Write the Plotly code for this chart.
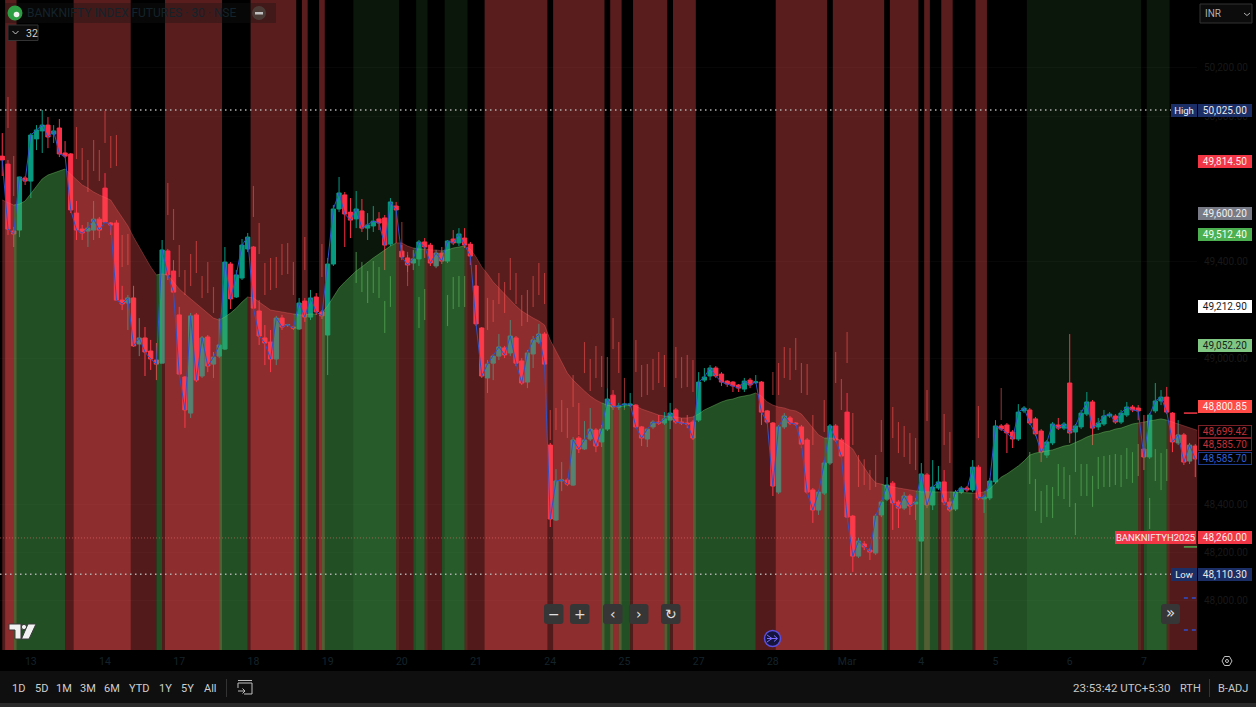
import plotly.graph_objects as go

# ---------- candles (30 min bars), prices in INR ----------
opens = [49835,49802,49526,49530,49745,49732,49906,49939,49963,49926,
49951,49848,49844,49600,49534,49526,49530,49575,49703,49559,
49559,49241,49229,49250,49060,49085,49031,48994,48981,49444,
49361,49180,48924,48775,49180,48928,49089,48977,49010,49039,
49390,49254,49332,49452,49460,49196,49085,49068,48998,49167,
49138,49130,49122,49237,49171,49254,49192,49097,49390,49617,
49675,49604,49576,49609,49538,49547,49576,49580,49472,49629,
49443,49415,49394,49411,49481,49468,49382,49435,49402,49493,
49477,49497,49472,49299,49126,48920,48981,49010,49044,49023,
49085,48990,48903,49019,49068,49101,48643,48334,48495,48499,
48478,48672,48627,48668,48705,48656,48709,48849,48800,48808,
48808,48808,48718,48668,48718,48738,48734,48746,48788,48738,
48734,48738,48746,48911,48928,48961,48936,48907,48903,48891,
48874,48911,48900,48903,48784,48734,48449,48718,48755,48734,
48718,48664,48458,48375,48445,48569,48722,48664,48779,48350,
48185,48235,48210,48198,48355,48420,48486,48408,48383,48433,
48400,48247,48520,48396,48466,48491,48408,48379,48449,48466,
48458,48552,48421,48425,48491,48722,48726,48697,48668,48784,
48788,48751,48701,48602,48652,48726,48713,48899,48697,48718,
48771,48821,48718,48730,48763,48763,48738,48767,48800,48796,
48627,48594,48784,48825,48841,48775,48652,48685,48577,48639]
highs = [49930,49819,49543,49749,49753,49930,49963,50025,49996,49963,
49988,49897,49848,49650,49551,49563,49650,49584,49765,49563,
49571,49300,49262,49300,49167,49130,49077,49064,49489,49452,
49406,49213,48928,49188,49188,49093,49097,49027,49167,49460,
49398,49365,49493,49518,49464,49241,49138,49118,49176,49180,
49143,49135,49250,49250,49283,49270,49200,49415,49633,49749,
49687,49662,49691,49658,49600,49629,49604,49592,49662,49646,
49468,49427,49448,49489,49497,49477,49448,49460,49489,49530,
49538,49538,49481,49386,49130,48994,49019,49101,49052,49159,
49093,49002,49035,49093,49143,49109,48652,48544,48573,48507,
48676,48680,48742,48796,48713,48726,48878,48870,48817,48817,
48858,48812,48722,48713,48746,48767,48779,48817,48796,48755,
48767,48746,48944,48961,48973,48969,48944,48911,48907,48895,
48920,48920,48932,48907,48788,48738,48726,48775,48763,48738,
48726,48672,48466,48458,48581,48730,48730,48672,48858,48355,
48260,48247,48218,48359,48416,48511,48495,48416,48449,48441,
48425,48569,48528,48581,48557,48540,48425,48458,48474,48474,
48581,48561,48437,48507,48746,48730,48734,48705,48812,48804,
48796,48759,48709,48664,48738,48755,48738,49101,48730,48788,
48862,48829,48755,48788,48779,48771,48788,48821,48808,48808,
48767,48775,48899,48870,48883,48779,48746,48693,48652,48647]
lows = [49753,49510,49460,49501,49716,49662,49860,49848,49868,49889,
49831,49827,49600,49489,49489,49460,49489,49497,49559,49510,
49241,49200,49118,49048,49010,48928,48953,48911,48981,49324,
49270,48932,48714,48755,48903,48920,48944,48920,49002,49035,
49204,49250,49324,49439,49204,49056,48973,48944,48973,49118,
49130,49118,49118,49151,49159,49180,49163,48932,49382,49604,
49460,49497,49538,49522,49489,49522,49530,49365,49464,49477,
49406,49357,49365,49382,49415,49382,49373,49390,49394,49468,
49464,49456,49386,49134,48920,48858,48911,48994,49002,49010,
48969,48891,48878,48961,49060,48969,48305,48330,48453,48474,
48474,48610,48623,48660,48614,48635,48701,48788,48788,48796,
48800,48713,48639,48635,48709,48726,48726,48709,48730,48726,
48713,48664,48738,48903,48911,48920,48887,48883,48862,48862,
48862,48878,48895,48726,48730,48433,48441,48709,48726,48722,
48631,48441,48322,48355,48437,48561,48656,48590,48342,48120,
48177,48210,48169,48190,48346,48412,48293,48301,48375,48355,
48334,48110,48383,48375,48458,48396,48367,48371,48441,48449,
48449,48416,48363,48416,48483,48701,48610,48631,48660,48775,
48726,48680,48573,48590,48643,48705,48705,48652,48532,48709,
48763,48643,48705,48722,48755,48730,48730,48759,48779,48746,
48540,48586,48775,48808,48771,48614,48643,48561,48565,48511]
closes = [49819,49534,49514,49749,49732,49922,49943,49963,49914,49939,
49844,49835,49613,49530,49518,49538,49575,49530,49563,49551,
49241,49225,49250,49052,49085,49027,48998,48977,49448,49345,
49274,48936,48788,49176,48911,49085,48969,49006,49056,49398,
49246,49345,49468,49501,49208,49093,49064,48998,49167,49130,
49140,49126,49229,49171,49250,49192,49176,49390,49617,49683,
49596,49571,49617,49538,49551,49567,49559,49468,49646,49613,
49419,49386,49411,49481,49460,49394,49435,49402,49485,49477,
49514,49468,49423,49143,48928,48977,49010,49048,49015,49093,
48981,48899,49023,49077,49101,48977,48338,48495,48499,48482,
48664,48627,48664,48709,48639,48709,48833,48800,48804,48812,
48812,48718,48672,48709,48738,48734,48751,48775,48738,48734,
48730,48672,48903,48924,48961,48928,48903,48895,48887,48878,
48907,48891,48904,48779,48738,48474,48718,48763,48734,48730,
48647,48449,48375,48449,48569,48722,48664,48598,48346,48185,
48247,48223,48202,48350,48408,48478,48404,48383,48433,48392,
48408,48524,48396,48470,48491,48408,48375,48449,48466,48458,
48552,48425,48429,48495,48722,48709,48693,48668,48779,48796,
48734,48689,48614,48656,48730,48713,48730,48693,48722,48775,
48821,48713,48734,48763,48771,48738,48775,48800,48788,48784,
48594,48767,48825,48841,48779,48656,48685,48573,48643,48586]

# ---------- smoothed trend area ----------
trend = [49654,49642,49633,49637,49650,49679,49712,49741,49757,49765,
49774,49782,49761,49736,49716,49703,49687,49675,49666,49654,
49617,49580,49547,49501,49460,49415,49378,49345,49349,49345,
49316,49287,49266,49246,49225,49204,49188,49167,49159,49171,
49188,49208,49233,49254,49250,49233,49217,49200,49196,49192,
49188,49184,49180,49180,49184,49184,49188,49217,49254,49291,
49316,49340,49361,49378,49398,49415,49431,49448,49464,49477,
49477,49464,49456,49452,49452,49448,49448,49444,49448,49456,
49460,49464,49452,49419,49378,49349,49316,49291,49266,49241,
49217,49196,49180,49167,49155,49138,49076,49031,48982,48940,
48911,48887,48866,48845,48829,48817,48808,48804,48800,48804,
48808,48804,48792,48784,48775,48767,48763,48759,48759,48755,
48755,48759,48771,48788,48800,48812,48821,48829,48833,48841,
48845,48850,48858,48845,48821,48808,48800,48796,48788,48784,
48771,48742,48713,48685,48672,48672,48672,48660,48643,48627,
48586,48548,48515,48487,48482,48474,48470,48466,48462,48458,
48454,48450,48450,48450,48450,48450,48450,48449,48445,48445,
48445,48445,48450,48462,48487,48511,48524,48540,48557,48577,
48602,48610,48614,48618,48623,48631,48639,48643,48652,48664,
48676,48685,48689,48697,48701,48709,48713,48722,48730,48734,
48738,48742,48746,48751,48746,48738,48730,48722,48713,48705,48699]
trend_up_from = [2,27,38,51,53,56,72,77,105,108,116,121,144,154,160,166,172,200]
trend_up_to   = [11,28,43,52,55,69,74,81,107,110,117,132,145,155,164,170,199,204]

# ---------- background signal bands (bar index, end exclusive) ----------
red_band_from = [1,13,29,44,53,56,85,97,107,111,118,136,146,156,162,165,171]
red_band_to   = [3,23,39,52,54,57,96,106,109,117,122,145,155,161,163,167,173]
green_band_from = [62,73,78,180,201]
green_band_to   = [70,75,82,200,205]

# ---------- translucent offset range bars ----------
red_bar_idx = [1,2,13,14,15,16,17,18,19,20,21,22,29,30,31,32,33,34,35,36,37,44,45,46,47,48,49,50,51,53,56,70,71,83,
85,86,87,88,89,90,91,92,93,94,95,96,97,98,99,100,101,102,103,104,105,106,107,108,109,111,112,113,114,115,116,118,119,120,121,
135,136,137,138,139,140,141,142,144,146,147,148,149,150,151,152,153,154,156,157,158,159,160,162,165,166,171,175]
red_bar_hi = [50079,49835,49955,49868,49819,49901,49860,50021,49918,49922,49510,49514,49724,49617,49468,49365,49431,49485,49340,49398,49295,49712,49559,49394,49415,49419,49472,49477,49398,49501,49472,49563,49440,49386,
49250,49241,49353,49316,49415,49353,49262,49283,49340,49394,49353,48788,48796,48829,48796,48932,48817,49068,48998,49052,49010,49006,49167,49068,48920,49076,48973,48977,48998,49027,49015,49048,49006,49015,48994,
48944,48982,49048,49044,49085,48982,48977,48767,48829,49027,48916,49109,48775,48602,48585,48540,48602,48746,48800,48738,48722,48693,48672,48870,48771,48697,48804,48878]
red_bar_lo = [49951,49670,49823,49736,49687,49774,49732,49889,49786,49794,49378,49386,49592,49489,49336,49262,49299,49353,49250,49270,49188,49584,49431,49262,49283,49291,49345,49349,49262,49365,49336,49435,49299,49254,
49118,49151,49225,49188,49283,49225,49134,49151,49213,49262,49225,48664,48705,48697,48672,48800,48685,48940,48866,48920,48883,48878,49039,48940,48788,48944,48841,48850,48870,48899,48883,48920,48878,48883,48862,
48850,48850,48920,48911,48953,48858,48850,48643,48697,48899,48788,48982,48643,48470,48478,48458,48470,48614,48672,48610,48594,48565,48540,48742,48643,48569,48672,48746]
green_bar_idx = [62,63,64,65,66,67,68,73,74,78,79,80,81,180,181,182,183,184,185,186,187,188,189,190,191,192,193,194,195,196,197,198,199,201,202,203,204]
green_bar_hi = [49440,49398,49361,49402,49378,49237,49340,49254,49287,49262,49336,49340,49340,48614,48503,48454,48478,48470,48565,48553,48520,48404,48565,48565,48516,48594,48598,48602,48606,48602,48631,48614,48647,48425,48627,48610,48627]
green_bar_lo = [49312,49275,49229,49270,49250,49105,49213,49126,49159,49134,49204,49213,49213,48482,48371,48322,48346,48342,48433,48421,48388,48272,48433,48433,48388,48462,48470,48470,48478,48470,48503,48487,48516,48297,48495,48458,48495]

# ---------- axis labels ----------
price_ticks = [50200,50000,49400,49000,48400,48200,48000]
date_idx = [5,18,31,44,57,70,83,96,109,122,135,148,161,174,187,200]
date_labels = ["13","14","17","18","19","20","21","24","25","27","28","Mar","4","5","6","7"]
price_range = [47797.75, 50479]
bar_range = [-0.4, 209.3]

# ---------- price scale tags ----------
tag_prices = [50025.00,49814.50,49600.20,49512.40,49212.90,49052.20,48800.85,48699.42,48585.70,48585.70,48260.00,48110.30]
tag_shift  = [0,0,0,0,0,0,0,0,14,0,0,0]
tag_fill   = ["#1b2f66","#f23645","#787b86","#4caf50","#ffffff","#81c784","#ff4a45","#000000","#000000","#000000","#f23645","#1b2f66"]
tag_edge   = ["#1b2f66","#f23645","#787b86","#4caf50","#ffffff","#81c784","#ff4a45","#7a2026","#7a2026","#1e3a8a","#f23645","#1b2f66"]
tag_text   = ["#e8e8e8","#ffe8e8","#f0f0f0","#f0fff0","#1a1a1a","#14261a","#fff0f0","#c2303a","#c2303a","#2f5fd0","#ffe8e8","#e8e8e8"]
high_value, low_value, last_value = 50025.0, 48110.3, 48260.0
short_marks = [48775, 48223, 48012, 47880]
short_mark_colors = ["#f23645", "#4caf50", "#2f4fd0", "#2f4fd0"]
short_mark_dash = ["solid", "solid", "4px,4px", "4px,4px"]

W, H, PW, PH = 1256, 707, 1197, 650
def px(x): return x / PW
def py(y): return 1 - y / PH

fig = go.Figure()

def band_trace(starts, ends, color):
    fig.add_trace(go.Bar(
        x=[(s + e - 1) / 2 for s, e in zip(starts, ends)],
        y=[price_range[1] - price_range[0]] * len(starts),
        base=price_range[0],
        width=[e - s for s, e in zip(starts, ends)],
        marker=dict(color=color, line=dict(width=0)),
        hoverinfo="skip", showlegend=False))

band_trace(red_band_from, red_band_to, "rgba(255,82,82,0.35)")
band_trace(green_band_from, green_band_to, "rgba(76,175,80,0.13)")

# trend area split by direction
up = [False] * (len(trend) - 1)
for s, e in zip(trend_up_from, trend_up_to):
    for i in range(s, e):
        up[i] = True
i = 0
while i < len(up):
    j = i
    while j < len(up) and up[j] == up[i]:
        j += 1
    green = up[i]
    fig.add_trace(go.Scatter(
        x=list(range(i, j + 1)), y=trend[i:j + 1], mode="lines",
        line=dict(color="rgba(110,190,100,0.45)" if green else "rgba(255,110,110,0.30)", width=1),
        fill="tozeroy",
        fillcolor="rgba(76,175,80,0.45)" if green else "rgba(255,82,82,0.32)",
        hoverinfo="skip", showlegend=False))
    i = j

# translucent range bars
fig.add_trace(go.Bar(x=red_bar_idx, y=[h - l for h, l in zip(red_bar_hi, red_bar_lo)], base=red_bar_lo,
                     width=0.2, marker=dict(color="rgba(255,82,82,0.55)", line=dict(width=0)),
                     hoverinfo="skip", showlegend=False))
fig.add_trace(go.Bar(x=green_bar_idx, y=[h - l for h, l in zip(green_bar_hi, green_bar_lo)], base=green_bar_lo,
                     width=0.2, marker=dict(color="rgba(110,200,110,0.55)", line=dict(width=0)),
                     hoverinfo="skip", showlegend=False))

# dotted lines
fig.add_trace(go.Scatter(x=bar_range, y=[high_value] * 2, mode="lines",
                         line=dict(color="#b0b0b0", width=1.5, dash="1.5px,3.5px"), hoverinfo="skip", showlegend=False))
fig.add_trace(go.Scatter(x=bar_range, y=[low_value] * 2, mode="lines",
                         line=dict(color="#b0b0b0", width=1.5, dash="1.5px,3.5px"), hoverinfo="skip", showlegend=False))
fig.add_trace(go.Scatter(x=bar_range, y=[last_value] * 2, mode="lines",
                         line=dict(color="rgba(255,120,120,0.5)", width=1, dash="1px,2px"), hoverinfo="skip", showlegend=False))

# blue close line, below the candles
idx = list(range(len(opens)))
fig.add_trace(go.Scatter(x=idx, y=closes, mode="lines", line=dict(color="#2f52c8", width=1),
                         hoverinfo="skip", showlegend=False))

# candles
fig.add_trace(go.Candlestick(
    x=idx, open=opens, high=highs, low=lows, close=closes, whiskerwidth=0,
    increasing=dict(line=dict(color="#089981", width=1), fillcolor="#089981"),
    decreasing=dict(line=dict(color="#fb3048", width=1), fillcolor="#fb3048"),
    hoverinfo="skip", showlegend=False))

# short right-edge marks
for v, c, d in zip(short_marks, short_mark_colors, short_mark_dash):
    fig.add_trace(go.Scatter(x=[207, bar_range[1]], y=[v, v], mode="lines", line=dict(color=c, width=1.5, dash=d),
                             hoverinfo="skip", showlegend=False))

# ---------- chrome ----------
shapes = []
def rect(x0, y0, x1, y1, fill, line=None, lw=1):
    shapes.append(dict(type="rect", xref="paper", yref="paper", x0=px(x0), x1=px(x1), y0=py(y1), y1=py(y0),
                       fillcolor=fill, line=dict(color=line or "rgba(0,0,0,0)", width=lw if line else 0)))
def round_rect(x0, y0, x1, y1, r, fill):
    def p(a, b): return f"{px(a):.5f},{py(b):.5f}"
    d = (f"M {p(x0 + r, y0)} L {p(x1 - r, y0)} Q {p(x1, y0)} {p(x1, y0 + r)} L {p(x1, y1 - r)} "
         f"Q {p(x1, y1)} {p(x1 - r, y1)} L {p(x0 + r, y1)} Q {p(x0, y1)} {p(x0, y1 - r)} "
         f"L {p(x0, y0 + r)} Q {p(x0, y0)} {p(x0 + r, y0)} Z")
    shapes.append(dict(type="path", xref="paper", yref="paper", path=d, fillcolor=fill, line=dict(width=0)))
def circle(cx, cy, r, fill, line=None, lw=1):
    shapes.append(dict(type="circle", xref="paper", yref="paper", x0=px(cx - r), x1=px(cx + r), y0=py(cy + r), y1=py(cy - r),
                       fillcolor=fill, line=dict(color=line or "rgba(0,0,0,0)", width=lw if line else 0)))
def path(points, fill=None, line=None, lw=1, close=True):
    d = "M " + " L ".join(f"{px(a):.5f},{py(b):.5f}" for a, b in points) + (" Z" if close else "")
    shapes.append(dict(type="path", xref="paper", yref="paper", path=d, fillcolor=fill or "rgba(0,0,0,0)",
                       line=dict(color=line or "rgba(0,0,0,0)", width=lw if line else 0)))

notes = []
def note(x, y, text, color="#c8c8c8", size=11, anchor="center", family="Roboto", bold=False):
    notes.append(dict(xref="paper", yref="paper", x=px(x), y=py(y), text=f"<b>{text}</b>" if bold else text,
                      showarrow=False, xanchor=anchor, yanchor="middle",
                      font=dict(color=color, size=size, family=family)))

# bottom toolbar
rect(0, 671, W, 703, "#0f0f0f")
rect(0, 703, W, H, "#2a2a2a")
for x, t in zip([18, 41, 64, 88, 112, 139, 165, 187, 210], ["1D", "5D", "1M", "3M", "6M", "YTD", "1Y", "5Y", "All"]):
    note(x, 688, t, "#d0d0d0", 11)
rect(226, 679, 227, 697, "#333333")
rect(1209, 679, 1210, 697, "#333333")
note(1122, 688, "23:53:42 UTC+5:30", "#c8c8c8", 11.5)
note(1190, 688, "RTH", "#c8c8c8", 11)
note(1233, 688, "B-ADJ", "#c8c8c8", 11)
path([(238, 683), (252, 683), (252, 694), (244, 694)], line="#c0c0c0", close=False)
path([(238, 683), (238, 688)], line="#c0c0c0", close=False)
path([(238, 680.5), (252, 680.5)], line="#c0c0c0", close=False)
path([(238, 691), (245, 691)], line="#c0c0c0", close=False)
path([(242.5, 688.5), (245, 691), (242.5, 693.5)], line="#c0c0c0", close=False)

# settings hexagon
path([(1222, 661), (1224.5, 656.5), (1229.5, 656.5), (1232, 661), (1229.5, 665.5), (1224.5, 665.5)], line="#c0c0c0")
circle(1227, 661, 1.5, "rgba(0,0,0,0)", "#c0c0c0")

# header strip
rect(5, 3, 276, 23, "rgba(20,20,20,0.35)")
circle(15, 13, 7.5, "#2e9e44")
circle(16.5, 14.5, 2.8, "#f2f2f2")
note(25, 13.5, "BANKNIFTY INDEX FUTURES · 30 · NSE", "#14232b", 12, "left")
circle(259, 13, 7, "#4a3a36")
rect(255, 12, 263, 14.5, "#c0c0c0")
rect(8, 25, 38, 40.5, "#0c0c0c", "#333333")
path([(12.5, 31), (15.5, 34), (18.5, 31)], line="#c8c8c8", close=False)
note(24, 33, "32", "#d0d0d0", 10.5, "left")

# currency box
rect(1200, 4, 1252, 23, "#0c0c0c", "#333333")
note(1203, 14, "INR", "#b0b0b0", 10, "left")
path([(1244, 13), (1247, 15.5), (1250, 13)], line="#b0b0b0", close=False)

# TradingView mark
path([(9, 624), (21, 624), (21, 639), (15, 639), (15, 630), (9, 630)], fill="#f2f2f2", line="#3a3a3a")
circle(24, 627, 2.6, "#f2f2f2", "#3a3a3a")
path([(28, 624), (36, 624), (29, 639), (21.5, 639)], fill="#f2f2f2", line="#3a3a3a")

# zoom controls
for x0, t in zip([544, 570, 603, 629, 661], ["−", "+", "‹", "›", "↻"]):
    round_rect(x0, 604, x0 + 19.5, 624, 3, "#363636")
    note(x0 + 9.7, 613.5, t, "#e0e0e0", 14, family="DejaVu Sans")
round_rect(1161, 604, 1180, 624, 3, "#363636")
note(1170.5, 613, "»", "#e0e0e0", 15, family="DejaVu Sans")

# go-to-date marker
circle(772.5, 638.5, 8, "#14143c", "#5a4fe0", 1.5)
path([(767, 635), (772, 638.5), (767, 642)], line="#7a6cff", close=False)
path([(767, 638.5), (777, 638.5)], line="#7a6cff", close=False)
path([(774, 635.5), (777.5, 638.5), (774, 641.5)], line="#7a6cff", close=False)

# price tags
for p, s, f, e, t in zip(tag_prices, tag_shift, tag_fill, tag_edge, tag_text):
    notes.append(dict(xref="paper", yref="y", x=px(1198), y=p, yshift=s, xanchor="left", yanchor="middle",
                      text=f"{p:,.2f}", showarrow=False, width=52, height=11, align="center", valign="middle",
                      bgcolor=f, bordercolor=e, borderwidth=1, borderpad=0,
                      font=dict(color=t, size=10, family="Roboto")))
for p, label, fill, x0, w in [(high_value, "High", "#1b2f66", 1171, 26), (low_value, "Low", "#1b2f66", 1171, 26),
                              (last_value, "BANKNIFTYH2025", "#f23645", 1115, 81)]:
    notes.append(dict(xref="paper", yref="y", x=px(x0), y=p, xanchor="left", yanchor="middle",
                      text=label, showarrow=False, width=w, height=13, align="center", valign="middle",
                      bgcolor=fill, borderwidth=0, borderpad=0,
                      font=dict(color="#f0f0f0", size=9.5, family="Roboto")))

fig.update_layout(
    width=W, height=H, autosize=False,
    margin=dict(l=0, r=W - PW, t=0, b=H - PH),
    paper_bgcolor="#000000", plot_bgcolor="#000000",
    barmode="overlay", boxgap=0.25, boxgroupgap=0, showlegend=False, dragmode=False,
    shapes=shapes, annotations=notes,
    xaxis=dict(range=bar_range, autorange=False, showgrid=False, zeroline=False, showline=False,
               rangeslider=dict(visible=False), tickmode="array", tickvals=date_idx, ticktext=date_labels,
               tickfont=dict(color="#14232b", size=10.5, family="Roboto"), ticks="", ticklabelstandoff=3),
    yaxis=dict(range=price_range, autorange=False, side="right", showgrid=True, gridcolor="#070707",
               zeroline=False, showline=False, tickmode="array", tickvals=price_ticks,
               ticktext=[f"{v:,.2f}" for v in price_ticks],
               tickfont=dict(color="#181818", size=10, family="Roboto"), ticks="", ticklabelstandoff=6)
)

fig.write_html("out.html", config=dict(displayModeBar=False, staticPlot=True),
               post_script="document.body.style.margin='0';document.documentElement.style.overflow='hidden';")
